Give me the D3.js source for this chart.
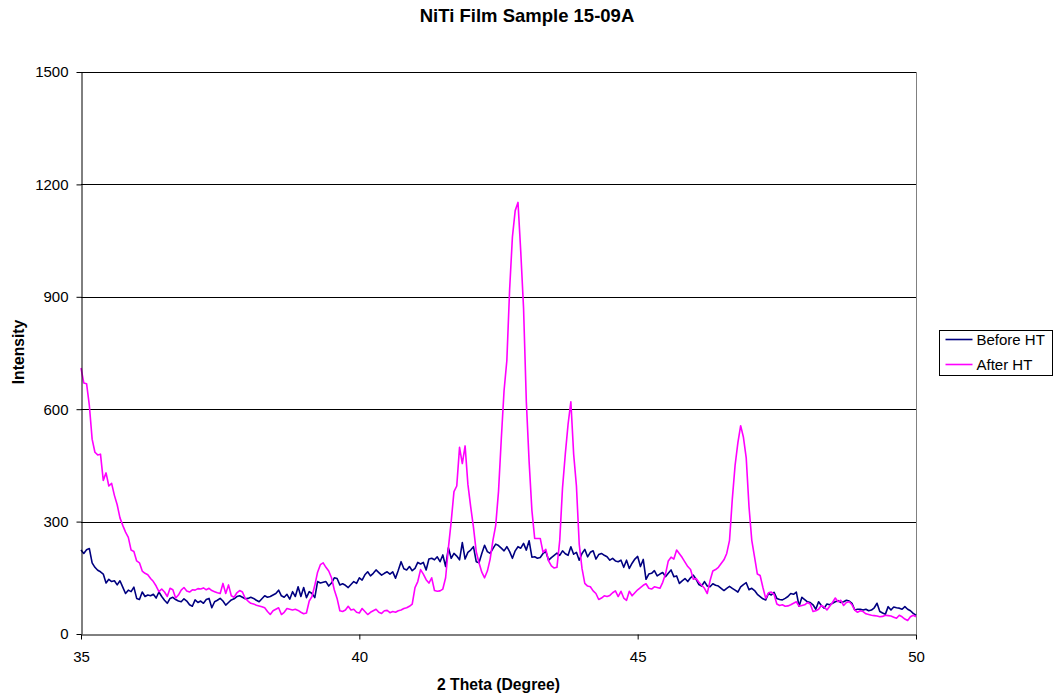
<!DOCTYPE html>
<html>
<head>
<meta charset="utf-8">
<style>
    body { margin: 0; background: #fff; }
    text { font-family: Arial, "Liberation Sans", sans-serif; fill: #000; }
</style>
</head>
<body>
<svg id="chart" width="1054" height="695"></svg>

<script src="https://d3js.org/d3.v7.min.js"></script>
<script>
    // 2 theta goes from 35 to 50 in steps of 0.05 degree (301 readings)
    const startAngle = 35
    const stepAngle = 0.05
    const xTicks = [35, 40, 45, 50]
    const yTicks = [0, 300, 600, 900, 1200, 1500]
    const seriesNames = ['Before HT', 'After HT']

    // one row per degree, 20 readings each
    const beforeHT = [
        224,215,225,228,190,178,170,166,160,136,146,140,142,131,142,125,108,117,113,125,
        95,92,112,100,104,102,106,96,112,100,90,82,95,98,92,88,86,94,88,78,
        74,91,84,88,82,92,95,70,86,90,95,88,77,84,91,94,100,102,98,94,
        95,98,95,90,86,94,102,98,100,104,108,117,102,98,106,93,113,100,126,100,
        124,97,113,108,97,140,136,138,140,128,136,150,148,131,134,130,124,132,140,135,
        150,144,158,166,155,162,171,164,157,162,166,160,166,149,170,193,174,171,180,169,
        175,191,187,191,171,200,202,198,206,193,211,180,230,202,215,208,198,244,200,218,
        224,233,193,190,215,237,220,215,228,240,236,229,222,233,220,202,222,233,229,242,
        224,249,205,206,202,204,215,220,197,204,210,216,210,222,214,210,233,213,218,197,
        215,226,206,218,222,200,212,215,210,206,197,202,195,193,197,178,197,175,189,200,
        207,180,199,146,160,162,169,155,160,164,153,162,171,153,155,135,142,148,140,150,
        157,146,132,128,140,128,126,134,130,128,122,116,122,127,122,117,112,126,132,137,
        118,122,116,106,100,94,91,108,104,111,95,92,91,95,100,108,106,112,74,98,
        92,86,84,78,66,86,76,69,80,78,82,86,89,84,86,90,88,82,64,66,
        66,64,66,62,64,70,82,60,56,53,73,64,72,70,69,66,73,66,62,55,
        50
    ]

    const afterHT = [
        710,670,668,610,520,485,478,480,410,430,395,402,370,345,310,290,272,258,224,220,
        195,190,168,162,158,148,140,128,113,120,112,100,122,118,96,104,117,124,115,112,
        118,117,121,120,123,118,122,116,113,110,108,135,108,131,102,98,110,116,112,95,
        88,82,80,77,75,73,70,60,52,62,66,70,52,58,68,66,64,66,63,58,
        54,56,88,100,130,165,185,190,178,168,150,118,95,62,60,64,74,64,66,58,
        56,68,60,52,58,62,66,58,55,62,63,57,60,58,62,64,68,70,74,80,
        124,140,172,160,145,136,150,116,114,115,120,150,230,300,380,395,498,455,502,400,
        340,285,220,190,165,150,168,200,250,290,380,520,650,730,920,1060,1130,1152,1020,870,
        620,460,330,255,255,255,218,226,195,182,176,178,250,390,480,560,620,480,395,240,
        175,135,128,126,115,108,92,96,102,100,103,110,115,100,114,96,90,114,102,110,
        118,124,130,134,122,120,126,124,122,138,160,195,205,200,224,214,204,192,180,172,
        146,148,138,130,122,108,142,168,172,178,188,198,215,250,360,450,510,556,525,470,
        340,250,205,160,156,124,95,110,112,106,80,76,78,74,75,78,82,86,74,76,
        78,84,80,60,62,66,76,72,64,74,84,96,86,90,76,84,86,78,64,58,
        62,60,54,52,50,49,48,46,47,50,49,48,45,42,50,46,40,36,46,50,
        46
    ]

    const colors = ['#000080', '#ff00ff']

    let svg = d3.select('#chart')
    let plot = {left: 81, right: 916, top: 72, bottom: 634}

    let x = d3.scaleLinear().domain([35, 50]).range([plot.left, plot.right])
    let y = d3.scaleLinear().domain([0, 1500]).range([plot.bottom, plot.top])

    let angles = beforeHT.map((d, i) => startAngle + i * stepAngle)

    // gridlines
    svg.append('g')
        .selectAll('line')
        .data(yTicks.filter(d => d > 0))
        .join('line')
        .attr('x1', plot.left)
        .attr('x2', plot.right)
        .attr('y1', d => Math.round(y(d)) + 0.5)
        .attr('y2', d => Math.round(y(d)) + 0.5)
        .attr('stroke', '#000')
        .attr('stroke-width', 1)

    // plot area right border
    svg.append('line')
        .attr('x1', plot.right + 0.5).attr('x2', plot.right + 0.5)
        .attr('y1', plot.top).attr('y2', plot.bottom)
        .attr('stroke', '#808080')

    // the two scans
    let line = d3.line()
        .x((d, i) => x(angles[i]))
        .y(d => y(d))

    ;[beforeHT, afterHT].forEach((series, k) => {
        svg.append('path')
            .datum(series)
            .attr('fill', 'none')
            .attr('stroke', colors[k])
            .attr('stroke-width', 1.6)
            .attr('stroke-linejoin', 'round')
            .attr('d', line)
    })

    // axes
    let xAxis = d3.axisBottom(x).tickValues(xTicks).tickSize(5).tickSizeOuter(0).tickPadding(4)
        .tickFormat(d3.format('d'))
    let gx = svg.append('g')
        .attr('transform', `translate(0,${plot.bottom + 0.5})`)
        .call(xAxis)
    gx.select('.domain').attr('stroke', '#000')
    gx.selectAll('.tick line').attr('stroke', '#000')
    gx.selectAll('.tick text')
        .style('font-size', '15px')
        .attr('dy', null)
        .attr('y', 27)

    let yAxis = d3.axisLeft(y).tickValues(yTicks).tickSize(5).tickSizeOuter(0).tickPadding(8)
        .tickFormat(d3.format('d'))
    let gy = svg.append('g')
        .attr('transform', `translate(${plot.left + 0.5},0)`)
        .call(yAxis)
    gy.select('.domain').attr('stroke', '#000')
    gy.selectAll('.tick line').attr('stroke', '#000')
    gy.selectAll('.tick text').style('font-size', '15px')

    // titles
    svg.append('text')
        .attr('x', 527).attr('y', 22)
        .attr('text-anchor', 'middle')
        .style('font-size', '18.5px')
        .style('font-weight', 'bold')
        .text('NiTi Film Sample 15-09A')

    svg.append('text')
        .attr('x', 498.5).attr('y', 690)
        .attr('text-anchor', 'middle')
        .style('font-size', '15.7px')
        .style('font-weight', 'bold')
        .text('2 Theta (Degree)')

    svg.append('text')
        .attr('transform', 'translate(24,352) rotate(-90)')
        .attr('text-anchor', 'middle')
        .style('font-size', '15.7px')
        .style('font-weight', 'bold')
        .text('Intensity')

    // legend
    let legend = svg.append('g').attr('transform', 'translate(939.5,330.5)')
    legend.append('rect')
        .attr('width', 113).attr('height', 45)
        .attr('fill', '#fff').attr('stroke', '#000')

    let items = legend.selectAll('g.item')
        .data(seriesNames)
        .join('g')
        .attr('class', 'item')
        .attr('transform', (d, i) => `translate(0,${9 + i * 25})`)
    items.append('line')
        .attr('x1', 6).attr('x2', 33)
        .attr('stroke', (d, i) => colors[i])
        .attr('stroke-width', 1.6)
    items.append('text')
        .attr('x', 37).attr('y', 5)
        .style('font-size', '15px')
        .text(d => d)
</script>
</body>
</html>
